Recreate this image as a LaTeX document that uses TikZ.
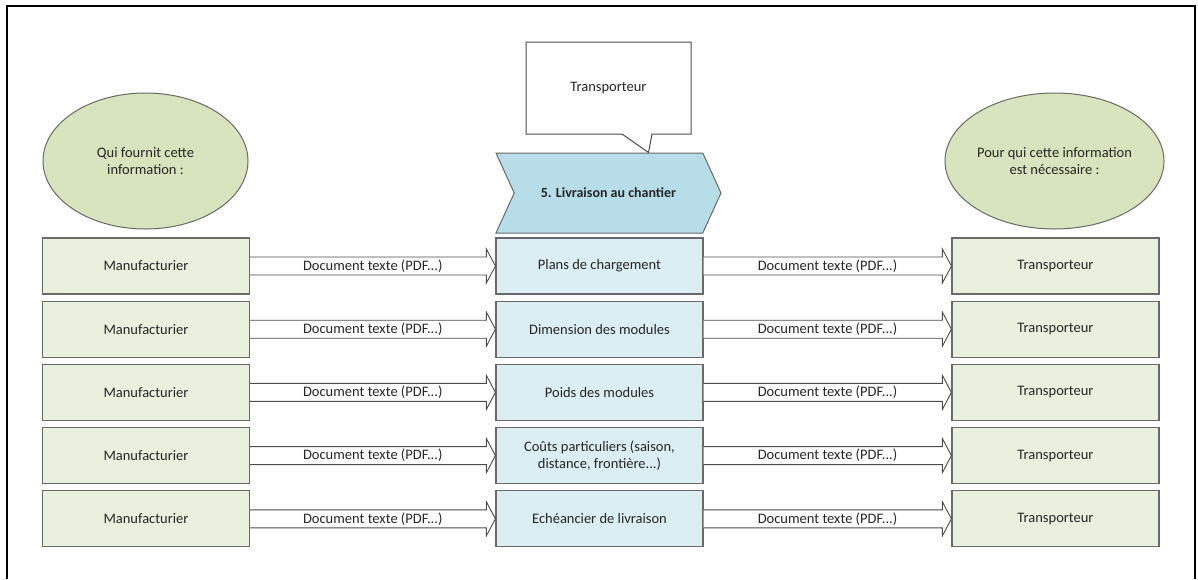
\documentclass[tikz,border=0pt]{standalone}
\usepackage{fontspec}
\setmainfont{Carlito}
\usepackage{tikz}
\usetikzlibrary{positioning,calc,shapes.geometric,shapes.symbols,shapes.callouts}

\definecolor{sourcefill}{RGB}{234,240,222}
\definecolor{bubblefill}{RGB}{215,228,189}
\definecolor{itemfill}{RGB}{219,238,243}
\definecolor{stepfill}{RGB}{183,222,232}
\definecolor{edgegray}{RGB}{105,105,105}

\begin{document}
\begin{tikzpicture}[
    x=1pt, y=-1pt,
    font=\fontsize{14.5}{17.5}\selectfont, text=black!85,
    node distance=6pt and 6pt,
    box/.style={rectangle, draw=edgegray, line width=1.2pt, align=center, minimum width=207pt, minimum height=56pt, inner sep=2pt},
    source/.style={box, fill=sourcefill},
    item/.style={box, fill=itemfill},
    who/.style={ellipse, draw=edgegray, line width=1pt, fill=bubblefill, align=center, minimum width=205pt, minimum height=136pt, inner sep=0pt},
    doc/.style={fill=white, inner sep=1pt},
    fatarrow/.style={draw=black!70, line width=0.9pt, fill=white, line join=miter,
        to path={($(\tikztostart)+(0,-9)$) -- ($(\tikztotarget)+(-9,-9)$) -- ($(\tikztotarget)+(-9,-17)$)
            -- (\tikztotarget) -- ($(\tikztotarget)+(-9,17)$) -- ($(\tikztotarget)+(-9,9)$) -- ($(\tikztostart)+(0,9)$) \tikztonodes}}
]
\useasboundingbox (0,0) rectangle (1198,579);

% frame (bottom edge falls outside the page)
\draw[line width=2pt] (7,579) |- (1195,6) -- (1195,579);

% step header and actor callout
\node[signal, signal from=west, signal to=east, signal pointer angle=131, draw=edgegray, line width=1pt, fill=stepfill, minimum width=225pt, minimum height=80pt, font=\fontsize{14}{17}\selectfont\bfseries] (step) at (608.5,193) {5. Livraison au chantier};
\node[rectangle callout, draw=black!70, line width=1pt, fill=white, minimum width=165pt, minimum height=92pt, callout pointer width=30pt, callout absolute pointer={($(step.north)+(40,0)$)}] (actor) at (608.5,88) {Transporteur};

% who provides / who needs
\node[who] (from) at (145.5,161) {Qui fournit cette\\information :};
\node[who] (to) at (1054.5,161) {Pour qui cette information\\est nécessaire :};

% first row
\node[source] (m1) at (146,266) {Manufacturier};
\node[item] (p1) at (599.5,266) {Plans de chargement};
\node[source] (t1) at (1055.5,266) {Transporteur};

% other rows
\node[source, below=of m1] (m2) {Manufacturier};
\node[item, below=of p1] (p2) {Dimension des modules};
\node[source, below=of t1] (t2) {Transporteur};

\node[source, below=of m2] (m3) {Manufacturier};
\node[item, below=of p2] (p3) {Poids des modules};
\node[source, below=of t2] (t3) {Transporteur};

\node[source, below=of m3] (m4) {Manufacturier};
\node[item, below=of p3] (p4) {Coûts particuliers (saison,\\distance, frontière...)};
\node[source, below=of t3] (t4) {Transporteur};

\node[source, below=of m4] (m5) {Manufacturier};
\node[item, below=of p4] (p5) {Echéancier de livraison};
\node[source, below=of t4] (t5) {Transporteur};

% document flows
\foreach \r in {1,...,5} {
    \draw[fatarrow] (m\r.east) to (p\r.west);
    \path (m\r.east) -- node[doc] {Document texte (PDF...)} (p\r.west);
    \draw[fatarrow] (p\r.east) to (t\r.west);
    \path (p\r.east) -- node[doc] {Document texte (PDF...)} (t\r.west);
}

\end{tikzpicture}
\end{document}
